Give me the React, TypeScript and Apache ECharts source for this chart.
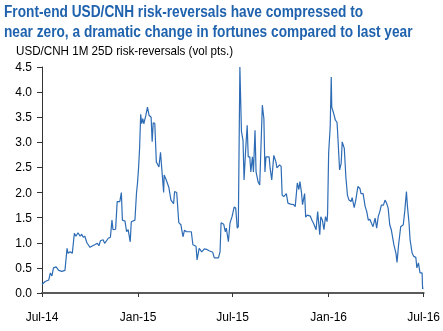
import React, { useEffect, useRef } from 'react';
import * as echarts from 'echarts';

const dates = [
  '2014-07-01','2014-07-07','2014-07-14','2014-07-17','2014-07-20','2014-07-23','2014-07-28','2014-08-02','2014-08-08','2014-08-14',
  '2014-08-18','2014-08-20','2014-08-24','2014-08-28','2014-09-01','2014-09-04','2014-09-08','2014-09-12','2014-09-15','2014-09-18',
  '2014-09-21','2014-09-25','2014-10-01','2014-10-06','2014-10-10','2014-10-15','2014-10-18','2014-10-21','2014-10-26','2014-10-29',
  '2014-11-05','2014-11-09','2014-11-12','2014-11-14','2014-11-19','2014-11-22','2014-11-27','2014-11-30','2014-12-02','2014-12-07',
  '2014-12-10','2014-12-13','2014-12-17','2014-12-19','2014-12-26','2014-12-29','2014-12-31','2015-01-02','2015-01-04','2015-01-06',
  '2015-01-08','2015-01-10','2015-01-12','2015-01-16','2015-01-19','2015-01-22','2015-01-26','2015-01-28','2015-01-30','2015-02-02',
  '2015-02-05','2015-02-10','2015-02-13','2015-02-16','2015-02-19','2015-02-20','2015-02-24','2015-03-01','2015-03-05','2015-03-10',
  '2015-03-12','2015-03-16','2015-03-20','2015-03-24','2015-03-28','2015-03-31','2015-04-04','2015-04-13','2015-04-16','2015-04-22',
  '2015-04-24','2015-04-28','2015-05-03','2015-05-08','2015-05-12','2015-05-17','2015-05-24','2015-05-27','2015-06-04','2015-06-07',
  '2015-06-09','2015-06-14','2015-06-17','2015-06-19','2015-06-23','2015-06-26','2015-06-30','2015-07-04','2015-07-07','2015-07-10',
  '2015-07-12','2015-07-15','2015-07-18','2015-07-21','2015-07-23','2015-07-26','2015-07-29','2015-07-31','2015-08-03','2015-08-05',
  '2015-08-08','2015-08-10','2015-08-13','2015-08-15','2015-08-19','2015-08-22','2015-08-27','2015-08-30','2015-09-01','2015-09-03',
  '2015-09-09','2015-09-11','2015-09-14','2015-09-18','2015-09-22','2015-09-24','2015-09-29','2015-10-02','2015-10-04','2015-10-07',
  '2015-10-12','2015-10-15','2015-10-20','2015-10-26','2015-10-29','2015-11-02','2015-11-05','2015-11-07','2015-11-10','2015-11-12',
  '2015-11-16','2015-11-18','2015-11-21','2015-11-27','2015-11-30','2015-12-03','2015-12-08','2015-12-11','2015-12-15','2015-12-17',
  '2015-12-20','2015-12-23','2015-12-26','2015-12-29','2015-12-30','2016-01-01','2016-01-04','2016-01-06','2016-01-07','2016-01-10',
  '2016-01-14','2016-01-17','2016-01-18','2016-01-22','2016-01-25','2016-01-27','2016-01-31','2016-02-03','2016-02-06','2016-02-09',
  '2016-02-13','2016-02-15','2016-02-19','2016-02-22','2016-02-26','2016-03-01','2016-03-03','2016-03-07','2016-03-11','2016-03-14',
  '2016-03-17','2016-03-20','2016-03-23','2016-03-26','2016-03-30','2016-04-02','2016-04-05','2016-04-08','2016-04-11','2016-04-15',
  '2016-04-18','2016-04-21','2016-04-24','2016-04-27','2016-04-30','2016-05-05','2016-05-09','2016-05-11','2016-05-14','2016-05-18',
  '2016-05-23','2016-05-26','2016-05-29','2016-05-31','2016-06-03','2016-06-05','2016-06-09','2016-06-12','2016-06-16','2016-06-18',
  '2016-06-21','2016-06-24','2016-06-28','2016-06-29','2016-06-30',
];

const riskReversals = [
  0.17, 0.23, 0.26, 0.40, 0.34, 0.50, 0.52, 0.45, 0.43, 0.45,
  0.89, 0.79, 0.82, 0.79, 1.19, 1.13, 1.20, 1.13, 1.17, 1.11,
  1.13, 1.00, 0.91, 0.94, 0.96, 0.99, 0.94, 1.04, 1.06, 0.99,
  1.09, 1.11, 1.45, 1.26, 1.27, 1.82, 1.82, 2.00, 1.45, 1.43,
  1.22, 1.26, 1.02, 1.42, 1.45, 1.99, 2.20, 2.50, 2.90, 3.56,
  3.37, 3.47, 3.37, 3.54, 3.70, 3.54, 3.50, 3.01, 3.39, 3.38,
  2.61, 2.51, 2.80, 2.40, 2.00, 2.35, 2.25, 2.10, 1.85, 1.78,
  2.02, 2.00, 1.40, 1.36, 1.12, 1.25, 1.22, 1.22, 0.96, 0.93,
  0.66, 0.89, 0.82, 0.88, 0.87, 0.84, 0.81, 0.70, 0.70, 0.82,
  1.40, 1.37, 1.22, 1.29, 1.02, 1.39, 1.52, 1.71, 1.69, 1.29,
  1.32, 4.50, 3.22, 3.04, 2.25, 2.84, 3.34, 2.71, 2.71, 2.41,
  2.71, 2.41, 3.24, 2.41, 2.21, 2.15, 3.74, 3.47, 2.41, 2.71,
  2.71, 2.48, 2.25, 2.74, 2.61, 2.49, 2.55, 2.52, 1.95, 1.92,
  1.98, 1.79, 1.77, 1.76, 1.72, 2.19, 2.06, 2.22, 2.00, 1.76,
  1.98, 1.51, 1.55, 1.53, 1.45, 1.39, 1.26, 1.62, 1.16, 1.52,
  1.45, 1.26, 1.52, 1.42, 1.59, 2.78, 3.31, 4.30, 3.70, 3.60,
  3.44, 3.40, 3.24, 2.45, 2.58, 3.01, 2.88, 2.31, 1.95, 1.85,
  1.82, 1.90, 1.70, 1.85, 2.12, 2.08, 1.98, 1.98, 1.72, 1.62,
  1.45, 1.47, 1.39, 1.32, 1.49, 1.29, 1.52, 1.62, 1.75, 1.75,
  1.85, 1.79, 1.69, 1.36, 1.26, 0.96, 0.79, 0.61, 0.96, 1.32,
  1.36, 1.65, 2.02, 1.72, 1.39, 1.06, 0.79, 0.73, 0.71, 0.50,
  0.60, 0.40, 0.40, 0.08, 0.11,
];

const tickDates = ['2014-07-01', '2015-01-01', '2015-07-01', '2016-01-01', '2016-07-01'];
const tickLabels = ['Jul-14', 'Jan-15', 'Jul-15', 'Jan-16', 'Jul-16'];

const titleText = 'Front-end USD/CNH risk-reversals have compressed to\nnear zero, a dramatic change in fortunes compared to last year';
const subtitleText = 'USD/CNH 1M 25D risk-reversals (vol pts.)';

const toTime = (s: string) => {
  const [y, m, d] = s.split('-').map(Number);
  return Date.UTC(y, m - 1, d);
};

const FONT = '"Liberation Sans", Arial, sans-serif';

export default function App() {
  const ref = useRef<HTMLDivElement>(null);
  useEffect(() => {
    const chart = echarts.init(ref.current!, null, { renderer: 'svg' });
    const tickTimes = tickDates.map(toTime);
    chart.setOption({
      animation: false,
      graphic: [
        {
          type: 'text',
          x: 4,
          y: 1,
          scaleX: 0.83,
          style: {
            text: titleText,
            font: 'bold 16.5px "Liberation Sans", Arial, sans-serif',
            fill: '#1f62ad',
            lineHeight: 20,
            verticalAlign: 'top',
          },
        },
        {
          type: 'text',
          x: 16,
          y: 45,
          scaleX: 0.97,
          style: {
            text: subtitleText,
            font: '12px "Liberation Sans", Arial, sans-serif',
            fill: '#000',
            verticalAlign: 'top',
          },
        },
      ],
      grid: { left: 42, right: 17, top: 67, bottom: 38 },
      xAxis: {
        type: 'value',
        min: tickTimes[0],
        max: tickTimes[tickTimes.length - 1],
        axisLine: { lineStyle: { color: '#5a5a5a', width: 2 } },
        axisTick: { show: true, length: 4, customValues: tickTimes, lineStyle: { color: '#333', width: 1 } },
        axisLabel: {
          customValues: tickTimes,
          formatter: (v: number) => {
            let best = 0;
            tickTimes.forEach((t, i) => { if (Math.abs(t - v) < Math.abs(tickTimes[best] - v)) best = i; });
            return tickLabels[best];
          },
          fontFamily: FONT,
          fontSize: 12,
          color: '#000',
          margin: 18,
        },
        splitLine: { show: false },
      },
      yAxis: {
        type: 'value',
        min: 0,
        max: 4.5,
        interval: 0.5,
        axisLine: { show: true, lineStyle: { color: '#333', width: 1 } },
        axisTick: { show: true, length: 5, lineStyle: { color: '#333' } },
        axisLabel: {
          formatter: (v: number) => v.toFixed(1),
          fontFamily: FONT,
          fontSize: 12,
          color: '#000',
          margin: 10,
        },
        splitLine: { show: false },
      },
      series: [
        {
          type: 'line',
          data: dates.map((d, i) => [toTime(d), riskReversals[i]]),
          showSymbol: false,
          lineStyle: { color: '#2d6cb5', width: 1.2 },
        },
      ],
    });
    return () => chart.dispose();
  }, []);
  return <div ref={ref} style={{ position: 'fixed', left: 0, top: 0, width: 443, height: 331 }} />;
}
